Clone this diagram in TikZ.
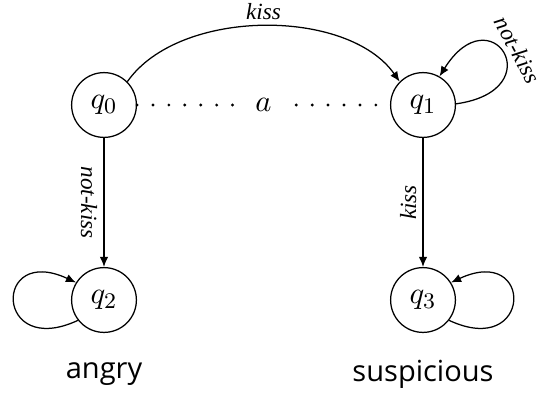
\documentclass[tikz,border=0pt]{standalone}
\usepackage{fontspec}
\newfontfamily\captionfont{Open Sans}
\newfontfamily\edgefont{Liberation Serif}
\usetikzlibrary{arrows.meta}
\begin{document}
\begin{tikzpicture}[x=0.358pt, y=-0.358pt,
  state/.style={draw, circle, line width=0.45pt, minimum size=23.2pt, inner sep=0pt, font=\fontsize{11}{13}\selectfont},
  trans/.style={line width=0.45pt, -{Latex[length=3.6pt, width=3pt]}},
  lbl/.style={font=\edgefont\itshape\fontsize{8.3}{10}\selectfont, inner sep=2.2pt},
  dotline/.style={line width=1.15pt, line cap=round, dash pattern=on 0pt off 5.7pt},
  mood/.style={font=\captionfont\fontsize{10.4}{12}\selectfont}]
  \useasboundingbox (0,0) rectangle (542,393);

  % states
  \node[state] (q0) at (104,105) {$q_0$};
  \node[state] (q1) at (423,105) {$q_1$};
  \node[state] (q2) at (104,300) {$q_2$};
  \node[state] (q3) at (423,300) {$q_3$};

  % captions under the bottom states
  \node[mood] (angry) at (104,374) {angry};
  \node[mood] (susp) at (423,374) {suspicious};

  % relation between q0 and q1
  \draw[dotline] (q0) -- node[fill=white, inner sep=4pt, font=\fontsize{11}{13}\selectfont] {$a$} (q1);

  % transitions
  \draw[trans] (q0.45) to[out=55, in=125, looseness=0.85]
    node[lbl, midway, above] {kiss} (q1.135);
  \draw[trans] (q1.2) to[out=8, in=58, distance=35pt]
    node[lbl, pos=0.47, anchor=south, rotate=-62, inner sep=2pt] {not-kiss} (q1.60);
  \draw[trans] (q0) -- node[lbl, midway, anchor=north, rotate=-90] {not-kiss} (q2);
  \draw[trans] (q1) -- node[lbl, midway, anchor=south, rotate=90] {kiss} (q3);
  \draw[trans] (q2.218) to[out=205, in=155, distance=33pt] (q2.148);
  \draw[trans] (q3.322) to[out=-25, in=25, distance=33pt] (q3.32);
\end{tikzpicture}
\end{document}
